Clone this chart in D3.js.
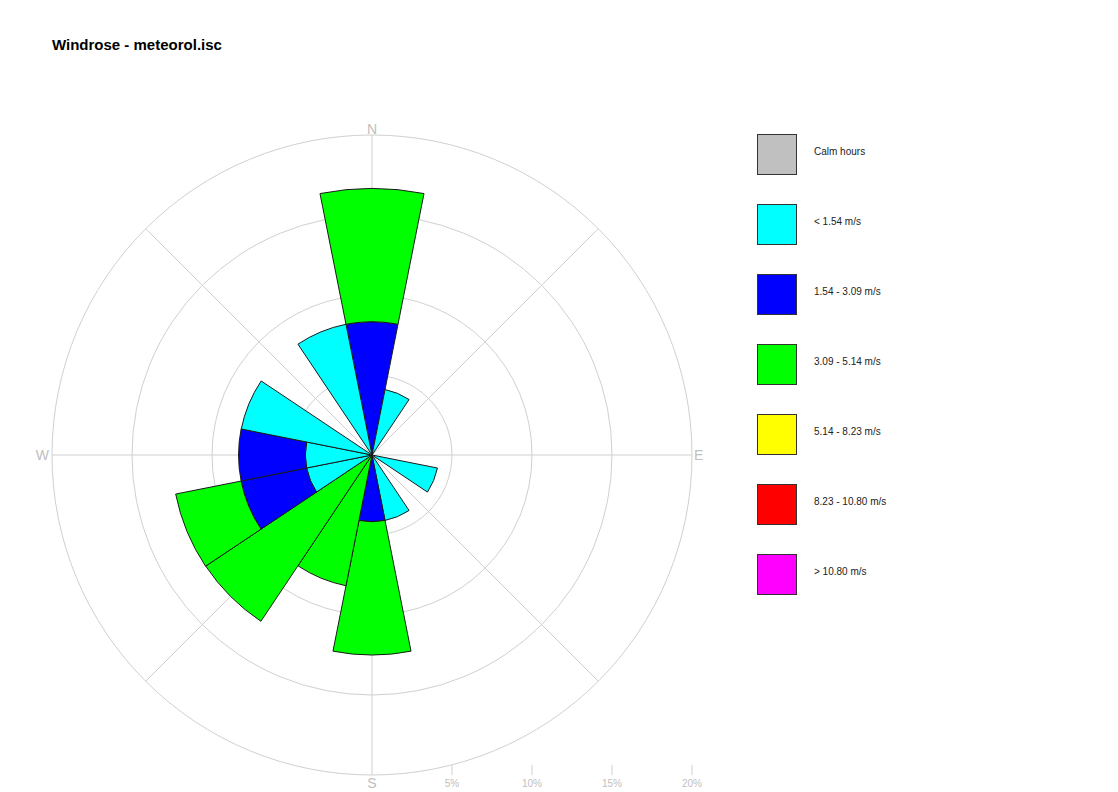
<!DOCTYPE html>
<html>
<head>
<meta charset="utf-8">
<script src="https://cdn.jsdelivr.net/npm/d3@7"></script>
<style>
  html, body { margin: 0; padding: 0; background: #fff; }
  svg { display: block; }
</style>
</head>
<body>
<svg id="chart" width="1118" height="792"></svg>
<script>
// ---- data (percent of hours) ----
const title = "Windrose - meteorol.isc";
const directions = ["N","NNE","NE","ENE","E","ESE","SE","SSE","S","SSW","SW","WSW","W","WNW","NW","NNW"];
const speedClasses = ["Calm hours", "< 1.54 m/s", "1.54 - 3.09 m/s", "3.09 - 5.14 m/s", "5.14 - 8.23 m/s", "8.23 - 10.80 m/s", "> 10.80 m/s"];
const classColors = ["#c0c0c0", "#00ffff", "#0000ff", "#00ff00", "#ffff00", "#ff0000", "#ff00ff"];
//                        N     NNE   NE  ENE  E   ESE   SE  SSE   S     SSW   SW    WSW   W     WNW   NW  NNW
const speedLt154     = [0,    4.17, 0,  0,   0,  4.17, 0,  4.17, 0,    0,    0,    4.17, 4.17, 8.33, 0,  8.33];
const speed154to309  = [8.33, 0,    0,  0,   0,  0,    0,  0,    4.17, 0,    0,    4.17, 4.17, 0,    0,  0];
const speed309to514  = [8.33, 0,    0,  0,   0,  0,    0,  0,    8.33, 8.33, 12.5, 4.17, 0,    0,    0,  0];
const speed514to823  = [0,    0,    0,  0,   0,  0,    0,  0,    0,    0,    0,    0,    0,    0,    0,  0];
const speed823to1080 = [0,    0,    0,  0,   0,  0,    0,  0,    0,    0,    0,    0,    0,    0,    0,  0];
const speedGt1080    = [0,    0,    0,  0,   0,  0,    0,  0,    0,    0,    0,    0,    0,    0,    0,  0];
const calmPercent = 0;
const gridTicks = [5, 10, 15, 20];
const tickLabels = ["5%", "10%", "15%", "20%"];
const compassLabels = ["N", "E", "S", "W"];

// ---- layout ----
const svg = d3.select("#chart");
const cx = 372, cy = 455, R = 320;
const r = d3.scaleLinear().domain([0, 20]).range([0, R]);
const sector = 2 * Math.PI / directions.length;
const angle = d3.scalePoint().domain(directions).range([0, 2 * Math.PI - sector]);
const gridColor = "#d0d0d0", labelColor = "#c0c0c0";

svg.append("text").attr("x", 52).attr("y", 50)
  .attr("font-family", "Liberation Sans, Arial, sans-serif")
  .attr("font-size", 15).attr("font-weight", "bold").attr("fill", "#000")
  .text(title);

const g = svg.append("g").attr("transform", `translate(${cx},${cy})`);

// grid circles
g.selectAll("circle.grid").data(gridTicks).join("circle")
  .attr("class", "grid").attr("r", d => r(d))
  .attr("fill", "none").attr("stroke", gridColor).attr("stroke-width", 1);

// radial lines every 45 degrees
const spokes = d3.range(0, 360, 45);
g.selectAll("line.spoke").data(spokes).join("line")
  .attr("class", "spoke")
  .attr("x1", 0).attr("y1", 0)
  .attr("x2", d => R * Math.sin(d * Math.PI / 180))
  .attr("y2", d => -R * Math.cos(d * Math.PI / 180))
  .attr("stroke", gridColor).attr("stroke-width", 1);

// stacked bars
const series = [speedLt154, speed154to309, speed309to514, speed514to823, speed823to1080, speedGt1080];
const arc = d3.arc();
const segs = [];
directions.forEach((dir, i) => {
  let acc = 0;
  series.forEach((s, k) => {
    const v = s[i];
    if (v > 0) {
      segs.push({dir, k: k + 1, inner: acc, outer: acc + v});
      acc += v;
    }
  });
});
g.selectAll("path.bar").data(segs).join("path")
  .attr("class", "bar")
  .attr("d", d => arc({
    innerRadius: r(d.inner), outerRadius: r(d.outer),
    startAngle: angle(d.dir) - sector / 2, endAngle: angle(d.dir) + sector / 2
  }))
  .attr("fill", d => classColors[d.k])
  .attr("stroke", "#1a1a1a").attr("stroke-width", 1).attr("stroke-linejoin", "miter");

// compass labels
const compFont = "Liberation Sans, Arial, sans-serif";
const comp = [
  {t: "N", x: 0, y: -R - 1, anchor: "middle"},
  {t: "E", x: R + 2, y: 5, anchor: "start"},
  {t: "S", x: 0, y: R + 13, anchor: "middle"},
  {t: "W", x: -R - 3, y: 5, anchor: "end"}
];
g.selectAll("text.comp").data(comp).join("text")
  .attr("class", "comp")
  .attr("x", d => d.x).attr("y", d => d.y)
  .attr("text-anchor", d => d.anchor)
  .attr("font-family", compFont).attr("font-size", 14)
  .attr("fill", labelColor).text(d => d.t);

// percent scale along bottom
g.selectAll("line.tick").data(gridTicks).join("line")
  .attr("class", "tick")
  .attr("x1", d => r(d)).attr("x2", d => r(d))
  .attr("y1", R - 10).attr("y2", R)
  .attr("stroke", gridColor).attr("stroke-width", 1);
g.selectAll("text.tick").data(gridTicks).join("text")
  .attr("class", "tick")
  .attr("x", d => r(d)).attr("y", R + 12)
  .attr("text-anchor", "middle")
  .attr("font-family", compFont).attr("font-size", 10)
  .attr("fill", labelColor).text((d, i) => tickLabels[i]);

// legend
const leg = svg.append("g");
const items = leg.selectAll("g.item").data(speedClasses).join("g")
  .attr("class", "item")
  .attr("transform", (d, i) => `translate(757,${134 + i * 70})`);
items.append("rect").attr("x", 0.5).attr("y", 0.5).attr("width", 39).attr("height", 40)
  .attr("fill", (d, i) => classColors[i]).attr("stroke", "#333").attr("stroke-width", 1);
items.append("text").attr("x", 57).attr("y", 21)
  .attr("font-family", compFont).attr("font-size", 10).attr("fill", "#222")
  .text(d => d);
</script>
</body>
</html>
